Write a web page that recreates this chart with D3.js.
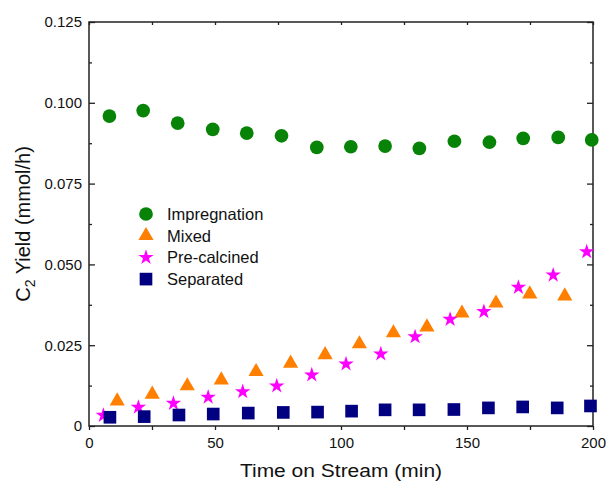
<!DOCTYPE html>
<html>
<head>
<meta charset="utf-8">
<script src="https://cdn.jsdelivr.net/npm/d3@7"></script>
<style>
  body { margin: 0; background: #fff; }
  svg text { font-family: "Liberation Sans", Arial, sans-serif; fill: #111; }
</style>
</head>
<body>
<div id="chart"></div>
<script>
var margin = { top: 22, right: 13, bottom: 57, left: 89 };
var width = 606 - margin.left - margin.right;
var height = 483 - margin.top - margin.bottom;

// values
var seriesNames = ['Impregnation', 'Mixed', 'Pre-calcined', 'Separated'];
var impregTime = [8.1, 21.5, 35.2, 49.1, 62.6, 76.4, 90.4, 103.9, 117.5, 131.1, 145.0, 158.9, 172.3, 186.2, 199.5];
var impregYield = [0.0959, 0.0976, 0.0937, 0.0918, 0.0906, 0.0898, 0.0862, 0.0864, 0.0866, 0.0859, 0.0881, 0.0878, 0.0890, 0.0893, 0.0885];
var mixedTime = [11.2, 25.1, 39.0, 52.5, 66.3, 80.0, 93.7, 107.3, 120.8, 134.1, 148.0, 161.5, 174.9, 188.8];
var mixedYield = [0.0077, 0.0098, 0.0124, 0.0142, 0.0168, 0.0194, 0.0220, 0.0254, 0.0288, 0.0306, 0.0349, 0.0380, 0.0408, 0.0402];
var precalTime = [5.7, 19.6, 33.5, 47.3, 61.0, 74.5, 88.4, 102.0, 115.8, 129.4, 143.3, 156.7, 170.4, 184.2, 197.5];
var precalYield = [0.0033, 0.0058, 0.0070, 0.0089, 0.0106, 0.0124, 0.0158, 0.0192, 0.0223, 0.0276, 0.0330, 0.0354, 0.0429, 0.0467, 0.0539];
var sepTime = [8.3, 21.9, 35.7, 49.3, 63.2, 77.1, 90.7, 104.2, 117.5, 131.0, 144.8, 158.5, 172.1, 185.8, 199.0];
var sepYield = [0.0027, 0.0029, 0.0034, 0.0037, 0.0040, 0.0042, 0.0043, 0.0046, 0.0050, 0.0050, 0.0051, 0.0056, 0.0059, 0.0056, 0.0062];

var xTicks = [0, 50, 100, 150, 200];
var xTickLabels = ['0', '50', '100', '150', '200'];
var xMinorTicks = [25, 75, 125, 175];
var yTicks = [0, 0.025, 0.05, 0.075, 0.1, 0.125];
var yTickLabels = ['0', '0.025', '0.050', '0.075', '0.100', '0.125'];
var yMinorTicks = [0.0125, 0.0375, 0.0625, 0.0875, 0.1125];

var colors = ['#078407', '#ff8000', '#ff00ff', '#000080'];
var shapes = [d3.symbolCircle, d3.symbolTriangle, d3.symbolStar, d3.symbolSquare];
var sizes = [148, 100, 74, 160];

var series = seriesNames.map((name, i) => {
  var t = [impregTime, mixedTime, precalTime, sepTime][i];
  var v = [impregYield, mixedYield, precalYield, sepYield][i];
  return { name: name, points: t.map((d, j) => ({ t: d, v: v[j] })) };
});

var svg = d3.select('#chart')
  .append('svg')
    .attr('width', 606)
    .attr('height', 483)
  .append('g')
    .attr('transform', `translate(${margin.left}, ${margin.top})`);

var x = d3.scaleLinear().domain([0, 200]).range([0, width]);
var y = d3.scaleLinear().domain([0, 0.125]).range([height, 0]);

function styleAxis (g) {
  g.select('.domain').remove();
  g.selectAll('line').attr('stroke', '#222').attr('stroke-width', 1.3);
  g.selectAll('text').style('font-size', '15px').attr('fill', '#111');
}

// left
svg.append('g')
  .call(d3.axisLeft(y).tickValues(yTicks).tickSize(-6).tickPadding(7)
    .tickFormat((d, i) => yTickLabels[i]))
  .call(styleAxis);
svg.append('g')
  .call(d3.axisLeft(y).tickValues(yMinorTicks).tickSize(-3).tickFormat(''))
  .call(styleAxis);
// right
svg.append('g')
  .attr('transform', `translate(${width}, 0)`)
  .call(d3.axisRight(y).tickValues(yTicks).tickSize(-6).tickFormat(''))
  .call(styleAxis);
svg.append('g')
  .attr('transform', `translate(${width}, 0)`)
  .call(d3.axisRight(y).tickValues(yMinorTicks).tickSize(-3).tickFormat(''))
  .call(styleAxis);
// bottom
svg.append('g')
  .attr('transform', `translate(0, ${height})`)
  .call(d3.axisBottom(x).tickValues(xTicks).tickSize(4).tickPadding(7)
    .tickFormat((d, i) => xTickLabels[i]))
  .call(styleAxis);
svg.append('g')
  .attr('transform', `translate(0, ${height})`)
  .call(d3.axisBottom(x).tickValues(xMinorTicks).tickSize(4).tickFormat(''))
  .call(styleAxis);
// top
svg.append('g')
  .call(d3.axisTop(x).tickValues(xTicks.concat(xMinorTicks)).tickSize(-3).tickFormat(''))
  .call(styleAxis);

svg.append('rect')
  .attr('width', width)
  .attr('height', height)
  .attr('fill', 'none')
  .attr('stroke', '#222')
  .attr('stroke-width', 1.5);

// points
series.forEach((s, i) => {
  svg.append('g')
    .selectAll('path')
    .data(s.points)
    .enter()
      .append('path')
      .attr('transform', d => `translate(${x(d.t)}, ${y(d.v)})`)
      .attr('d', d3.symbol(shapes[i], sizes[i]))
      .attr('fill', colors[i]);
});

// legend
var legend = svg.append('g').attr('transform', 'translate(57, 192)');
seriesNames.forEach((name, i) => {
  var row = legend.append('g').attr('transform', `translate(0, ${i * 21.7})`);
  row.append('path')
    .attr('d', d3.symbol(shapes[i], sizes[i]))
    .attr('fill', colors[i]);
  row.append('text')
    .attr('x', 21)
    .attr('dy', '0.36em')
    .style('font-size', '16.5px')
    .text(name);
});

// axis titles
svg.append('text')
  .attr('transform', `translate(${width / 2}, ${height + 51}) scale(1, 0.9)`)
  .attr('text-anchor', 'middle')
  .style('font-size', '21px')
  .text('Time on Stream (min)');

var yTitle = svg.append('text')
  .attr('transform', `translate(-59, ${height / 2}) rotate(-90)`)
  .attr('text-anchor', 'middle')
  .style('font-size', '20px');
yTitle.append('tspan').text('C');
yTitle.append('tspan').attr('dy', 5).style('font-size', '14px').text('2');
yTitle.append('tspan').attr('dy', -5).text(' Yield (mmol/h)');
</script>
</body>
</html>
